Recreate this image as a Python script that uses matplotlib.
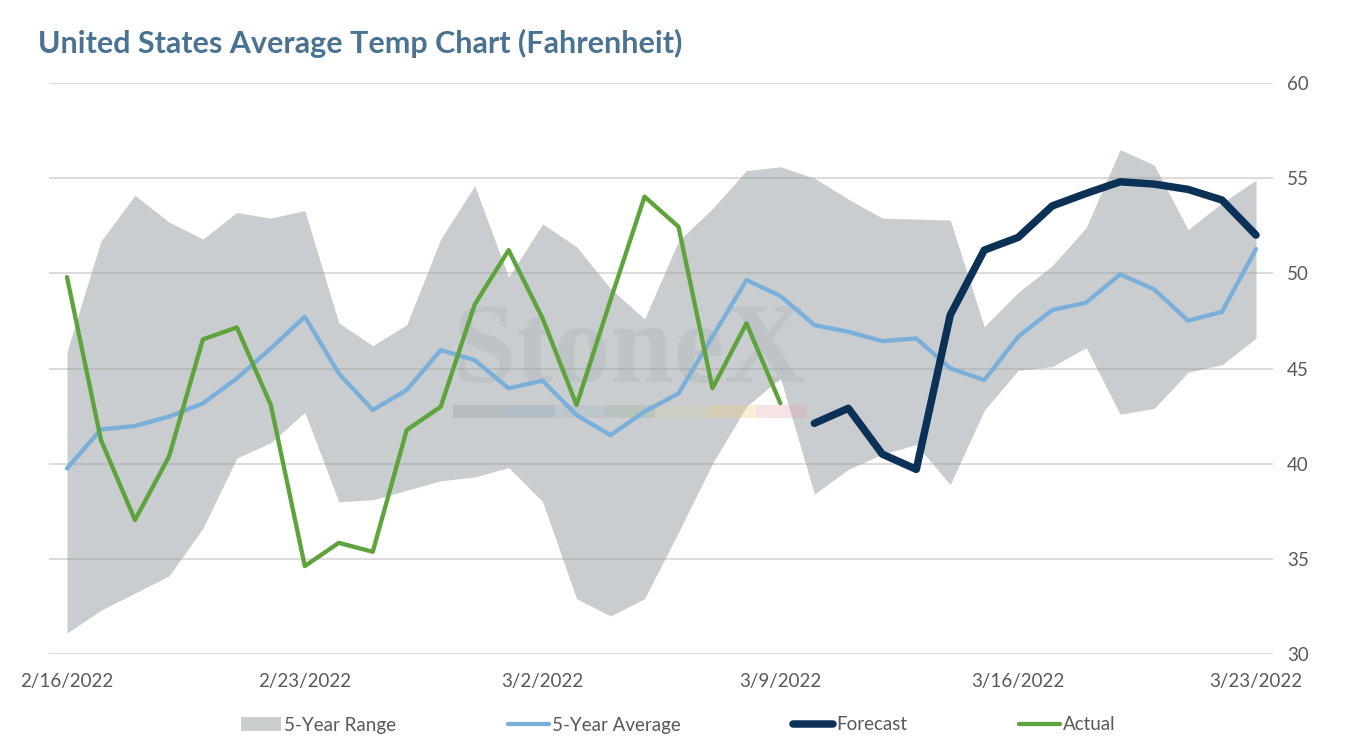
import matplotlib
matplotlib.use("Agg")
import matplotlib.pyplot as plt
from matplotlib.patches import Patch, Rectangle
from matplotlib.lines import Line2D
import numpy as np
import pandas as pd

dates = pd.date_range("2022-02-16", "2022-03-23", freq="D")

range_low = [31.1, 32.3, 33.2, 34.1, 36.6, 40.3, 41.1, 42.7, 38.0, 38.1, 38.6, 39.1,
             39.3, 39.8, 38.0, 32.9, 32.0, 32.9, 36.4, 40.0, 43.0, 44.5, 38.4, 39.7,
             40.5, 41.0, 38.9, 42.8, 44.9, 45.1, 46.1, 42.6, 42.9, 44.8, 45.2, 46.6]
range_high = [45.9, 51.7, 54.1, 52.7, 51.8, 53.2, 52.9, 53.3, 47.4, 46.2, 47.3, 51.8,
              54.6, 49.8, 52.6, 51.4, 49.2, 47.6, 51.7, 53.4, 55.4, 55.6, 55.0, 53.9,
              52.9, 52.85, 52.8, 47.2, 49.0, 50.4, 52.4, 56.5, 55.7, 52.3, 53.7, 54.9]
avg_5yr = [39.75, 41.8, 41.98, 42.47, 43.17, 44.48, 46.06, 47.72, 44.74, 42.82, 43.87, 45.97,
           45.44, 43.96, 44.36, 42.55, 41.5, 42.73, 43.69, 46.67, 49.65, 48.81, 47.28, 46.93,
           46.44, 46.58, 45.01, 44.39, 46.67, 48.07, 48.46, 49.95, 49.16, 47.51, 47.98, 51.28]
actual = [49.8, 41.24, 37.04, 40.36, 46.53, 47.16, 43.08, 34.62, 35.84, 35.37, 41.77, 42.99,
          48.36, 51.22, 47.63, 43.08, 48.6, 54.03, 52.45, 43.96, 47.37, 43.17]
forecast = [42.12, 42.91, 40.5, 39.7, 47.81, 51.22, 51.89, 53.54, 54.2, 54.81, 54.69,
            54.41, 53.85, 52.01]

tick_every = 7
y_ticks = [30, 35, 40, 45, 50, 55, 60]

c_range = "#959DA0"
c_avg = "#7AAFD9"
c_fc = "#0B3157"
c_act = "#5FA33D"
c_text = "#595959"

plt.rcParams["font.family"] = ["Lato", "DejaVu Sans"]

x = np.arange(len(dates))
x_act = x[:len(actual)]
x_fc = x[len(dates) - len(forecast):]

fig = plt.figure(figsize=(13.5, 7.5), dpi=100)
ax = fig.add_axes([49 / 1350, 96 / 750, 1224 / 1350, 571 / 750])

ax.fill_between(x, range_low, range_high, color=c_range, alpha=0.5, lw=0, zorder=2)
ax.plot(x, avg_5yr, color=c_avg, lw=3.1, solid_joinstyle="round",
        solid_capstyle="round", zorder=4)
ax.plot(x_fc, forecast, color=c_fc, lw=5.4, solid_joinstyle="round",
        solid_capstyle="round", zorder=5)
ax.plot(x_act, actual, color=c_act, lw=3.1, solid_joinstyle="round",
        solid_capstyle="round", zorder=5)

# faint watermark
ax.text(0.475, 0.525, "StoneX", transform=ax.transAxes, ha="center", va="center",
        family="Liberation Serif", fontsize=82, fontweight="bold", color="#8F9BA0",
        alpha=0.18, zorder=3)
bar_cols = ["#8c9599", "#7f97ad", "#9fb8c4", "#8fae92", "#d8ceb0", "#f6c77a", "#e3a3ad"]
bw = (0.619 - 0.33) / len(bar_cols)
for k, bc in enumerate(bar_cols):
    ax.add_patch(Rectangle((0.33 + k * bw, 0.413), bw, 0.023, transform=ax.transAxes,
                           color=bc, alpha=0.3, lw=0, zorder=3))

ax.set_xlim(-0.53, len(dates) - 0.5)
ax.set_ylim(30, 60)
ax.set_yticks(y_ticks)
ax.yaxis.tick_right()
ax.grid(axis="y", color="#D9D9D9", lw=1.3, zorder=1)
ax.set_axisbelow(True)

ticks = x[::tick_every]
ax.set_xticks(ticks)
ax.set_xticklabels([f"{d.month}/{d.day}/{d.year}" for d in dates[::tick_every]])
ax.tick_params(axis="x", length=0, pad=14, labelsize=13.5, labelcolor=c_text)
ax.tick_params(axis="y", length=0, pad=10, labelsize=13.5, labelcolor=c_text)
for s in ax.spines.values():
    s.set_visible(False)

fig.text(38 / 1350, 1 - 43 / 750, "United States Average Temp Chart (Fahrenheit)",
         ha="left", va="center", fontsize=22, fontweight="bold", color="#4A7291")

handles = [
    Patch(facecolor="#CACECF", edgecolor="none"),
    Line2D([], [], color=c_avg, lw=3.1, solid_capstyle="round"),
    Line2D([], [], color=c_fc, lw=5.4, solid_capstyle="round"),
    Line2D([], [], color=c_act, lw=3.1, solid_capstyle="round"),
]
labels = ["5-Year Range", "5-Year Average", "Forecast", "Actual"]
leg = fig.legend(handles, labels, loc="center", bbox_to_anchor=(678 / 1350, 25 / 750),
                 ncol=4, frameon=False, fontsize=13.5, handlelength=2.15,
                 handleheight=0.75, handletextpad=0.15, columnspacing=6.0)
for t in leg.get_texts():
    t.set_color(c_text)

fig.savefig("out.png", dpi=100)
